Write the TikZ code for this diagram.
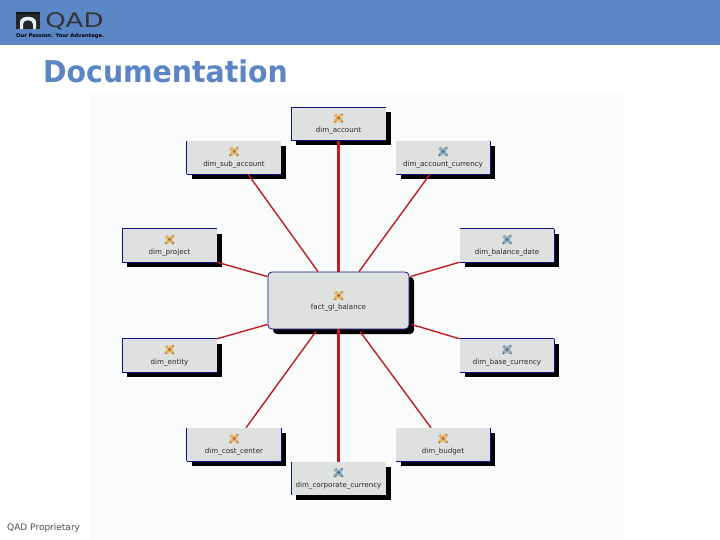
\documentclass[tikz,border=0pt]{standalone}
\usepackage{fontspec}
\setmainfont{DejaVu Sans}
\usetikzlibrary{calc,shadows}
\definecolor{headblue}{HTML}{5A86C5}
\definecolor{titleblue}{HTML}{5B86C3}
\definecolor{panel}{HTML}{FAFCFB}
\definecolor{boxgrey}{HTML}{DFE1E1}
\definecolor{edgenavy}{HTML}{101080}
\definecolor{linkred}{HTML}{C01C24}
\definecolor{toolA}{HTML}{E0B468}
\definecolor{toolB}{HTML}{A8662C}
\definecolor{toolC}{HTML}{8FAAB8}
\definecolor{toolD}{HTML}{4E6C80}
\tikzset{
  x=1pt,y=-1pt,
  tbl/.style={fill=boxgrey,draw=none,inner sep=0pt,minimum width=94.5pt,minimum height=33pt,
    general shadow={shadow xshift=5pt,shadow yshift=-5pt,fill=black}},
  rootbox/.style={fill=boxgrey,draw=edgenavy,line width=.8pt,rounded corners=4pt,inner sep=0pt,
    minimum width=141pt,minimum height=57pt,
    general shadow={shadow xshift=5pt,shadow yshift=-5pt,fill=black}},
  tbllabel/.style={inner sep=0pt,font=\fontsize{7.1}{8}\selectfont,text=black!85},
  navyline/.style={draw=edgenavy,line width=.9pt},
  thinlink/.style={draw=linkred,line width=1.4pt},
  thicklink/.style={draw=linkred,line width=2.1pt},
  pics/toolicon/.style n args={2}{code={
    \draw[#1,line width=3.2pt] (-3.6,-3.6)--(3.6,3.6);
    \draw[#1,line width=3.2pt] (-3.6,3.6)--(3.6,-3.6);
    \fill[#2] (0,0) circle (1.5pt);
    \fill[#2] (3.8,3.8) circle (1pt);
    \fill[#2] (-3.8,3.8) circle (1pt);
    \fill[#2] (3.8,-3.8) circle (.8pt);
  }}
}
% name, cx, cy, label, icon colours
\newcommand{\tblnode}[5]{%
  \node[tbl] (#1) at (#2,#3) {};
  \path (#2,#3-6) pic {toolicon={#5}};
  \node[tbllabel] (#1-label) at (#2,#3+7) {#4};
}
\begin{document}
\begin{tikzpicture}
\useasboundingbox (0,0) rectangle (720,540);
\fill[white] (0,0) rectangle (720,540);
\fill[headblue] (0,0) rectangle (720,45);
\fill[panel] (90,94) rectangle (624,540);
% logo
\fill[black!85] (16,12) rectangle (40,29);
\fill[black!85!headblue] (16,12) rectangle (40,14);
\fill[white!85!headblue] (20,29) -- (20,22) .. controls (20,15) and (36,15) .. (36,22) -- (36,29) -- (33,29) -- (33,24) .. controls (33,19) and (23,19) .. (23,24) -- (23,29) -- cycle;
\node[anchor=base west,inner sep=0pt,text=black!80,xscale=1.3,transform shape,
  font=\fontsize{20}{22}\selectfont] (logotext) at (45,28) {QAD};
\node[anchor=base west,inner sep=0pt,text=black,font=\bfseries\fontsize{5.2}{6}\selectfont] (tagline) at (16,38) {Our Passion. Your Advantage.};
% title and footer
\node[anchor=base west,inner sep=0pt,text=titleblue,xscale=.945,transform shape,
  font=\bfseries\fontsize{30}{32}\selectfont] (title) at (43,83) {Documentation};
\node[anchor=base west,inner sep=0pt,text=black!70,font=\fontsize{9}{10}\selectfont] (footer) at (7,530) {QAD Proprietary};
% tables
\tblnode{acct}{338.5}{124}{dim\_account}{{toolA}{toolB}}
\tblnode{sub}{234}{157.5}{dim\_sub\_account}{{toolA}{toolB}}
\tblnode{cur}{443}{157.5}{dim\_account\_currency}{{toolC}{toolD}}
\tblnode{project}{169.5}{245.5}{dim\_project}{{toolA}{toolB}}
\tblnode{balance}{507}{245.5}{dim\_balance\_date}{{toolC}{toolD}}
\tblnode{entity}{169.5}{355.5}{dim\_entity}{{toolA}{toolB}}
\tblnode{base}{507}{355.5}{dim\_base\_currency}{{toolC}{toolD}}
\tblnode{cost}{234}{444.5}{dim\_cost\_center}{{toolA}{toolB}}
\tblnode{budget}{443}{444.5}{dim\_budget}{{toolA}{toolB}}
\tblnode{corp}{338.5}{478.5}{dim\_corporate\_currency}{{toolC}{toolD}}
\node[rootbox] (root) at (338.5,300.5) {};
\path (338.5,295.5) pic {toolicon={toolA}{toolB}};
\node[tbllabel] (root-label) at (338.5,308) {fact\_gl\_balance};
% partial table outlines
\foreach \n in {acct,project,entity,balance,base}
  \draw[navyline] (\n.north west) -- (\n.north east);
\foreach \n in {acct,sub,cur,project,entity,balance,base,cost,budget}
  \draw[navyline] (\n.south west) -- (\n.south east);
\foreach \n in {acct,sub,project,entity,cost,corp}
  \draw[navyline] (\n.north west) -- (\n.south west);
\foreach \n in {cur,balance,base,cost,budget}
  \draw[navyline] (\n.north east) -- (\n.south east);
% connectors
\draw[thicklink] (acct.south) -- (root.north);
\draw[thicklink] (corp.north) -- (root.south);
\draw[thinlink] ($(sub.south)+(14,0)$) -- ($(root.north)+(-20.5,0)$);
\draw[thinlink] ($(cur.south)+(-13,0)$) -- ($(root.north)+(20.5,0)$);
\draw[thinlink] (project.south east) -- ($(root.north west)+(0,5)$);
\draw[thinlink] (entity.north east) -- ($(root.south west)+(0,-5)$);
\draw[thinlink] (balance.south west) -- ($(root.north east)+(1,5)$);
\draw[thinlink] (base.north west) -- ($(root.south east)+(2,-5)$);
\draw[thinlink] ($(cost.north)+(12,0)$) -- ($(root.south)+(-22.5,2)$);
\draw[thinlink] ($(budget.north)+(-12,0)$) -- ($(root.south)+(21.5,2)$);
\end{tikzpicture}
\end{document}
